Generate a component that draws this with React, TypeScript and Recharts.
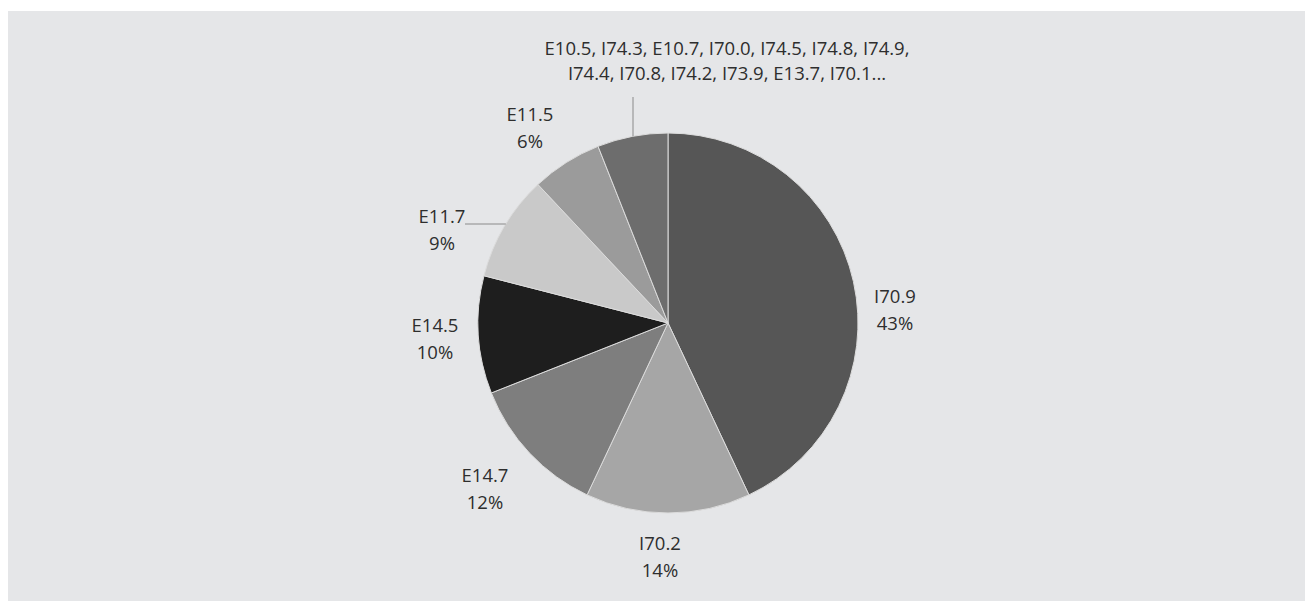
import React from 'react';
import { PieChart, Pie, Cell } from 'recharts';

const categories = ['I70.9', 'I70.2', 'E14.7', 'E14.5', 'E11.7', 'E11.5', 'Other'];
const shares = [43, 14, 12, 10, 9, 6, 6];
const otherLabelLines = [
  'E10.5, I74.3, E10.7, I70.0, I74.5, I74.8, I74.9,',
  'I74.4, I70.8, I74.2, I73.9, E13.7, I70.1...',
];
const showPercent = [true, true, true, true, true, true, false];

const COLORS = ['#565656', '#a6a6a6', '#7e7e7e', '#1e1e1e', '#c9c9c9', '#9b9b9b', '#6d6d6d'];
// label block centers, relative to pie centre (layout only)
const LABEL_OFFSETS: [number, number][] = [
  [227, -14], [-8, 233], [-183, 165], [-233, 15], [-226, -94], [-138, -196], [59, -263],
];
// leader line start points relative to centre, and direction ('h' horizontal / 'v' vertical)
const LEADERS: ({ x: number; y: number; dir: 'h' | 'v' } | null)[] = [
  null, null, null, null, { x: -203, y: -99, dir: 'h' }, null, { x: -35, y: -226, dir: 'v' },
];

const data = categories.map((name, i) => ({ name, value: shares[i] }));

const FONT = '"Open Sans", sans-serif';
const TEXT_COLOR = '#2e2e2e';

const renderLabel = (props: any) => {
  const { cx, cy, outerRadius, index } = props;
  const [ox, oy] = LABEL_OFFSETS[index];
  const x = cx + ox;
  const y = cy + oy;
  const lines =
    index === categories.length - 1
      ? otherLabelLines
      : [categories[index], ...(showPercent[index] ? [`${shares[index]}%`] : [])];
  const lh = index === categories.length - 1 ? 25 : 27;
  const y0 = y - ((lines.length - 1) * lh) / 2;
  const leader = LEADERS[index];
  let line = null;
  if (leader) {
    let ex: number;
    let ey: number;
    if (leader.dir === 'h') {
      ey = leader.y;
      ex = Math.sign(leader.x) * Math.sqrt(outerRadius * outerRadius - leader.y * leader.y);
    } else {
      ex = leader.x;
      ey = Math.sign(leader.y) * Math.sqrt(outerRadius * outerRadius - leader.x * leader.x);
    }
    line = (
      <line
        x1={cx + leader.x}
        y1={cy + leader.y}
        x2={cx + ex}
        y2={cy + ey}
        stroke="#8a8a8a"
        strokeWidth={1}
      />
    );
  }
  return (
    <g key={`lbl-${index}`}>
      {line}
      {lines.map((t, k) => (
        <text
          key={k}
          x={x}
          y={y0 + k * lh}
          textAnchor="middle"
          dominantBaseline="central"
          fontFamily={FONT}
          fontSize={18.5}
          fill={TEXT_COLOR}
        >
          {t}
        </text>
      ))}
    </g>
  );
};

export default function App() {
  return (
    <div
      style={{
        position: 'absolute',
        left: 8,
        top: 11,
        width: 1297,
        height: 590,
        background: '#e5e6e8',
      }}
    >
      <PieChart width={1297} height={590}>
        <Pie
          data={data}
          dataKey="value"
          nameKey="name"
          cx={655}
          cy={307}
          outerRadius={190}
          startAngle={90}
          endAngle={-270}
          stroke="#dcdcdc"
          strokeWidth={1}
          label={renderLabel}
          labelLine={false}
          isAnimationActive={false}
        >
          {data.map((d, i) => (
            <Cell key={d.name} fill={COLORS[i]} />
          ))}
        </Pie>
      </PieChart>
    </div>
  );
}
